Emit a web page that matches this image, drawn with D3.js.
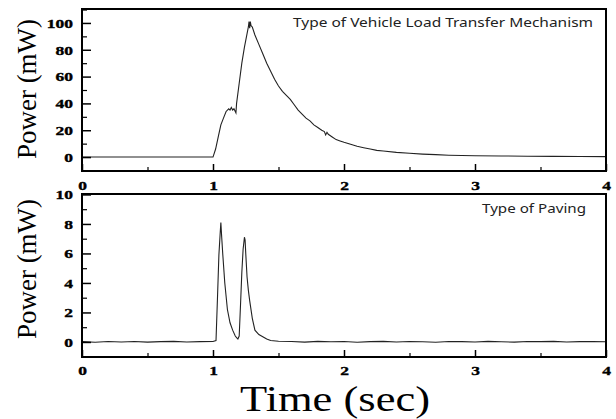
<!DOCTYPE html>
<html>
<head>
<meta charset="utf-8">
<script src="https://cdn.jsdelivr.net/npm/d3@7"></script>
<style>
  body { margin: 0; background: #fff; }
  .tick text { font-family: "Liberation Serif", serif; font-weight: bold; font-size: 12.5px; fill: #000; stroke: #000; stroke-width: 0.35px; }
  .lbl { font-family: "Liberation Serif", serif; fill: #000; }
  .legend { font-family: "Noto Sans", sans-serif; font-size: 13px; fill: #222; }
</style>
</head>
<body>
<div id="chart"></div>
<script>
// top panel: vehicle load transfer mechanism
var topTime = [0, 0.5, 1.0, 1.02, 1.04, 1.06, 1.08, 1.10, 1.12, 1.13, 1.14, 1.15, 1.16, 1.17, 1.175,
  1.18, 1.20, 1.22, 1.24, 1.26, 1.27, 1.275, 1.28, 1.285, 1.29, 1.30, 1.32, 1.35, 1.38, 1.41, 1.44,
  1.47, 1.50, 1.53, 1.56, 1.59, 1.62, 1.65, 1.68, 1.71, 1.74, 1.77, 1.80, 1.83, 1.85, 1.86, 1.87, 1.88,
  1.91, 1.94, 1.97, 2.00, 2.05, 2.10, 2.15, 2.20, 2.25, 2.30, 2.40, 2.50, 2.60, 2.70, 2.80, 2.90,
  3.00, 3.20, 3.40, 3.60, 3.80, 4.00];
var topPower = [0, 0, 0, 6, 15, 24, 29, 34, 36, 35, 37, 35, 36, 34, 33,
  40, 55, 70, 82, 92, 97, 101, 96, 101, 98, 97, 91, 84, 77, 70, 64,
  58, 53, 49, 46, 43, 39, 35, 32, 29, 27, 24, 22, 20, 19, 16.5, 18.5, 17,
  15, 13, 12, 11, 9.5, 8, 7, 6, 5, 4.5, 3.5, 2.8, 2.2, 1.8, 1.4, 1.2,
  1.0, 0.8, 0.6, 0.5, 0.4, 0.3];

// bottom panel: paving
var botTime = [0, 0.1, 0.2, 0.3, 0.4, 0.5, 0.6, 0.7, 0.8, 0.9, 1.0, 1.023, 1.035, 1.045, 1.055, 1.06,
  1.065, 1.075, 1.09, 1.11, 1.13, 1.15, 1.17, 1.18, 1.19, 1.20, 1.21, 1.22, 1.23, 1.24, 1.245, 1.25,
  1.26, 1.27, 1.28, 1.30, 1.32, 1.35, 1.38, 1.41, 1.44, 1.5, 1.6, 1.7, 1.8, 1.9, 2.0, 2.1, 2.2, 2.3,
  2.4, 2.5, 2.6, 2.7, 2.8, 2.9, 3.0, 3.1, 3.2, 3.3, 3.4, 3.5, 3.6, 3.7, 3.8, 3.9, 4.0];
var botPower = [0.02, -0.02, 0.03, 0, 0.03, -0.01, 0.02, 0.04, 0, 0.02, 0.03, 0.1, 3.2, 5.9, 7.4, 8.1,
  7.3, 5.9, 4.0, 2.2, 1.3, 0.8, 0.4, 0.3, 0.2, 0.4, 2.5, 4.7, 6.3, 7.1, 6.9, 6.0,
  4.4, 3.5, 2.8, 1.6, 0.8, 0.5, 0.35, 0.2, 0.1, 0.05, 0.03, -0.01, 0.04, 0.01, 0.03, -0.02, 0.02, 0.04,
  0, 0.03, 0.01, -0.02, 0.03, 0.02, 0, 0.04, 0.01, -0.01, 0.03, 0.02, 0.04, 0, 0.02, 0.03, 0.01];

var xTicks = [0, 1, 2, 3, 4];
var xMinor = [0.5, 1.5, 2.5, 3.5];
var topTicks = [0, 20, 40, 60, 80, 100];
var topMinor = [-10, 10, 30, 50, 70, 90, 110];
var botTicks = [0, 2, 4, 6, 8, 10];
var botMinor = [-1, 1, 3, 5, 7, 9];

var W = 616, H = 419;
var svg = d3.select("#chart").append("svg").attr("width", W).attr("height", H);

var x = d3.scaleLinear().domain([0, 4]).range([82, 606]);

function panel(top, bottom, yDomain, times, values, ticks, minor, legend, legendX, legendY, labelY, xLabelOffset) {
  var y = d3.scaleLinear().domain(yDomain).range([bottom, top]);

  // curve
  var line = d3.line().x(function(d) { return x(d[0]); }).y(function(d) { return y(d[1]); });
  svg.append("path")
    .datum(d3.zip(times, values))
    .attr("fill", "none")
    .attr("stroke", "#222")
    .attr("stroke-width", 1.1)
    .attr("d", line);

  // y axis, ticks go inward
  var gy = svg.append("g").attr("transform", "translate(82,0)")
    .call(d3.axisLeft(y).tickValues(ticks).tickSizeInner(-9).tickSizeOuter(0).tickFormat(d3.format("d")));
  gy.select(".domain").remove();
  gy.selectAll(".tick line").attr("stroke", "#000").attr("stroke-width", 1.5);
  gy.selectAll(".tick text").attr("x", -6.4).attr("dy", "0.35em").attr("transform", "scale(1.4,1)");
  var gym = svg.append("g").attr("transform", "translate(82,0)")
    .call(d3.axisLeft(y).tickValues(minor.filter(function(v) { return v > yDomain[0] && v < yDomain[1]; }))
      .tickSizeInner(-5).tickSizeOuter(0).tickFormat(""));
  gym.select(".domain").remove();
  gym.selectAll(".tick line").attr("stroke", "#000").attr("stroke-width", 1.2);

  // x axis at bottom, ticks inward
  var gx = svg.append("g").attr("transform", "translate(0," + bottom + ")")
    .call(d3.axisBottom(x).tickValues(xTicks).tickSizeInner(-7).tickSizeOuter(0).tickFormat(d3.format("d")));
  gx.select(".domain").remove();
  gx.selectAll(".tick line").attr("stroke", "#000").attr("stroke-width", 1.5);
  gx.selectAll(".tick text").attr("y", xLabelOffset).attr("dy", "0").attr("transform", "scale(1.4,1)");
  var gxm = svg.append("g").attr("transform", "translate(0," + bottom + ")")
    .call(d3.axisBottom(x).tickValues(xMinor).tickSizeInner(-4).tickSizeOuter(0).tickFormat(""));
  gxm.select(".domain").remove();
  gxm.selectAll(".tick line").attr("stroke", "#000").attr("stroke-width", 1.2);

  // frame
  svg.append("rect")
    .attr("x", 82).attr("y", top)
    .attr("width", 606 - 82).attr("height", bottom - top)
    .attr("fill", "none").attr("stroke", "#000").attr("stroke-width", 2);

  svg.append("text").attr("class", "legend")
    .attr("x", legendX[0]).attr("y", legendY)
    .attr("textLength", legendX[1] - legendX[0]).attr("lengthAdjust", "spacingAndGlyphs")
    .text(legend);

  svg.append("text").attr("class", "lbl")
    .attr("transform", "translate(36," + labelY + ") rotate(-90)")
    .attr("text-anchor", "middle")
    .style("font-size", "27px")
    .text("Power (mW)");
}

panel(9, 171, [-10.4, 110.4], topTime, topPower, topTicks, topMinor,
  "Type of Vehicle Load Transfer Mechanism", [293, 593], 27, 89, 19.5);
panel(194, 357, [-1.02, 10.03], botTime, botPower, botTicks, botMinor,
  "Type of Paving", [482, 586], 213, 269, 18);

svg.append("text").attr("class", "lbl")
  .attr("x", 335).attr("y", 410.5)
  .attr("text-anchor", "middle")
  .attr("textLength", 190).attr("lengthAdjust", "spacingAndGlyphs")
  .style("font-size", "36px")
  .text("Time (sec)");
</script>
</body>
</html>
